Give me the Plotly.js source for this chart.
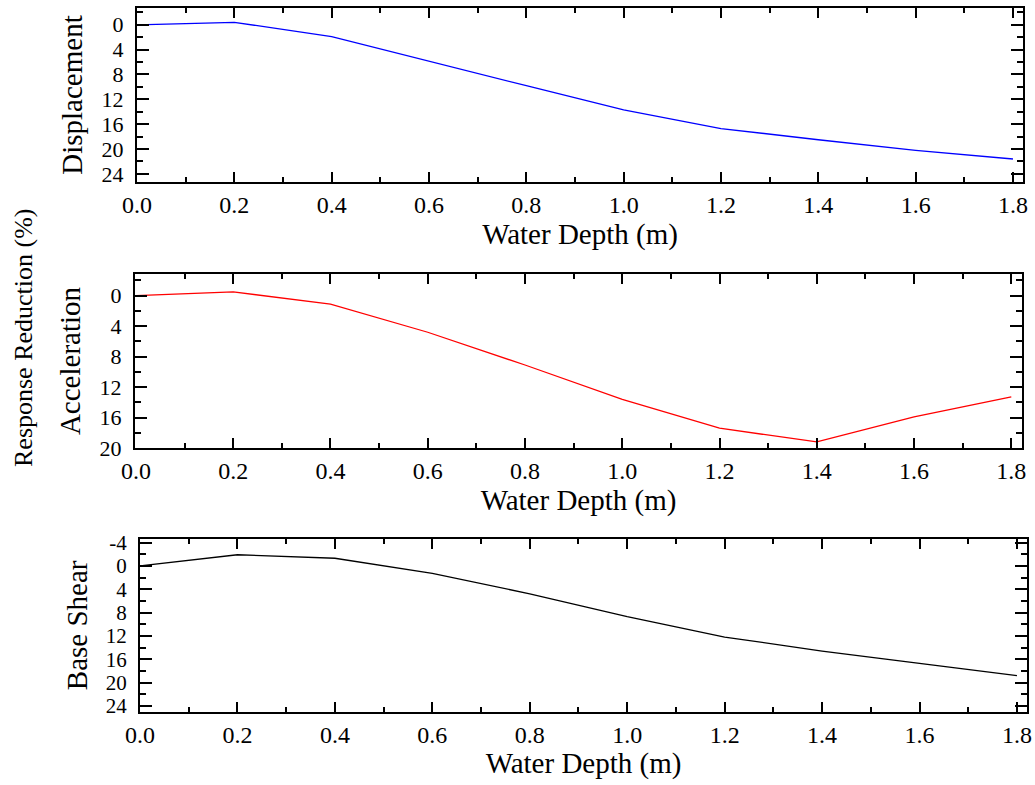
<!DOCTYPE html>
<html>
<head>
<meta charset="utf-8">
<script src="https://cdn.plot.ly/plotly-3.0.1.min.js"></script>
<style>html,body{margin:0;padding:0;background:#fff;}#chart{width:1035px;height:785px;}</style>
</head>
<body>
<div id="chart"></div>
<script>
// Data
const waterDepth = [0.0, 0.2, 0.4, 0.6, 0.8, 1.0, 1.2, 1.4, 1.6, 1.8];
const displacement = [0.0, -0.4, 1.9, 5.9, 9.8, 13.7, 16.7, 18.5, 20.2, 21.6];
const acceleration = [0.0, -0.5, 1.1, 4.8, 9.1, 13.6, 17.4, 19.2, 15.9, 13.3];
const baseShear = [0.0, -1.9, -1.3, 1.3, 4.8, 8.7, 12.2, 14.6, 16.7, 18.8];

const xTickVals = [0.0, 0.2, 0.4, 0.6, 0.8, 1.0, 1.2, 1.4, 1.6, 1.8];
const xTickText = ["0.0", "0.2", "0.4", "0.6", "0.8", "1.0", "1.2", "1.4", "1.6", "1.8"];
const dispTickVals = [0, 4, 8, 12, 16, 20, 24];
const dispTickText = ["0", "4", "8", "12", "16", "20", "24"];
const accTickVals = [0, 4, 8, 12, 16, 20];
const accTickText = ["0", "4", "8", "12", "16", "20"];
const shearTickVals = [-4, 0, 4, 8, 12, 16, 20, 24];
const shearTickText = ["-4", "0", "4", "8", "12", "16", "20", "24"];

const xTitle = "Water Depth (m)";
const yTitles = ["Displacement", "Acceleration", "Base Shear"];
const sharedTitle = "Response Reduction (%)";

const FONT = "Liberation Serif, Times New Roman, serif";
const W = 1035, H = 785;
const px = v => v / W;
const py = v => 1 - v / H;

function xAxis(domain, range) {
  return {
    domain: domain, range: range,
    tickmode: "array", tickvals: xTickVals, ticktext: xTickText,
    ticks: "inside", ticklen: 10, tickwidth: 2, tickcolor: "#000",
    minor: {ticks: "inside", ticklen: 5, tickwidth: 2, tickcolor: "#000", tickmode: "linear", tick0: 0, dtick: 0.1},
    showline: true, linewidth: 2, linecolor: "#000", mirror: "ticks",
    showgrid: false, zeroline: false,
    tickfont: {family: FONT, size: 24, color: "#000"},
    ticklabelstandoff: 0,
    title: {text: xTitle, font: {family: FONT, size: 29, color: "#000"}, standoff: 2}
  };
}
function yAxis(domain, range, vals, text, title, fs) {
  return {
    domain: domain, range: range,
    tickmode: "array", tickvals: vals, ticktext: text,
    ticks: "inside", ticklen: 12, tickwidth: 2, tickcolor: "#000",
    minor: {ticks: "inside", ticklen: 6, tickwidth: 2, tickcolor: "#000", tickmode: "linear", tick0: 0, dtick: 2},
    showline: true, linewidth: 2, linecolor: "#000", mirror: "ticks",
    showgrid: false, zeroline: false,
    tickfont: {family: FONT, size: fs, color: "#000"},
    ticklabelstandoff: 7,
    title: {text: title, font: {family: FONT, size: 29, color: "#000"}, standoff: 10}
  };
}

const traces = [
  {x: waterDepth, y: displacement, type: "scatter", mode: "lines", line: {color: "#0000ff", width: 1.3}, xaxis: "x", yaxis: "y", showlegend: false},
  {x: waterDepth, y: acceleration, type: "scatter", mode: "lines", line: {color: "#ff0000", width: 1.3}, xaxis: "x2", yaxis: "y2", showlegend: false},
  {x: waterDepth, y: baseShear, type: "scatter", mode: "lines", line: {color: "#000000", width: 1.3}, xaxis: "x3", yaxis: "y3", showlegend: false}
];

const layout = {
  width: W, height: H,
  margin: {l: 0, r: 0, t: 0, b: 0},
  paper_bgcolor: "#fff", plot_bgcolor: "#fff",
  showlegend: false,
  font: {family: FONT, color: "#000"},
  xaxis: Object.assign(xAxis([px(137), px(1023)], [0, 1.8206]), {anchor: "y"}),
  yaxis: Object.assign(yAxis([py(182), py(8)], [25.3, -2.7], dispTickVals, dispTickText, yTitles[0], 22), {anchor: "x"}),
  xaxis2: Object.assign(xAxis([px(135), px(1022)], [-0.002, 1.822]), {anchor: "y2"}),
  yaxis2: Object.assign(yAxis([py(448), py(274)], [20.0, -2.85], accTickVals, accTickText, yTitles[1], 22), {anchor: "x2"}),
  xaxis3: Object.assign(xAxis([px(140), px(1027)], [0, 1.8206]), {anchor: "y3"}),
  yaxis3: Object.assign(yAxis([py(711.7), py(539)], [25.0, -4.6], shearTickVals, shearTickText, yTitles[2], 21), {anchor: "x3"}),
  annotations: [{
    text: sharedTitle, textangle: -90, xref: "paper", yref: "paper",
    x: px(23), y: py(338), xanchor: "center", yanchor: "middle", showarrow: false,
    font: {family: FONT, size: 26, color: "#000"}
  }]
};

Plotly.newPlot("chart", traces, layout, {displayModeBar: false, staticPlot: true});
</script>
</body>
</html>
